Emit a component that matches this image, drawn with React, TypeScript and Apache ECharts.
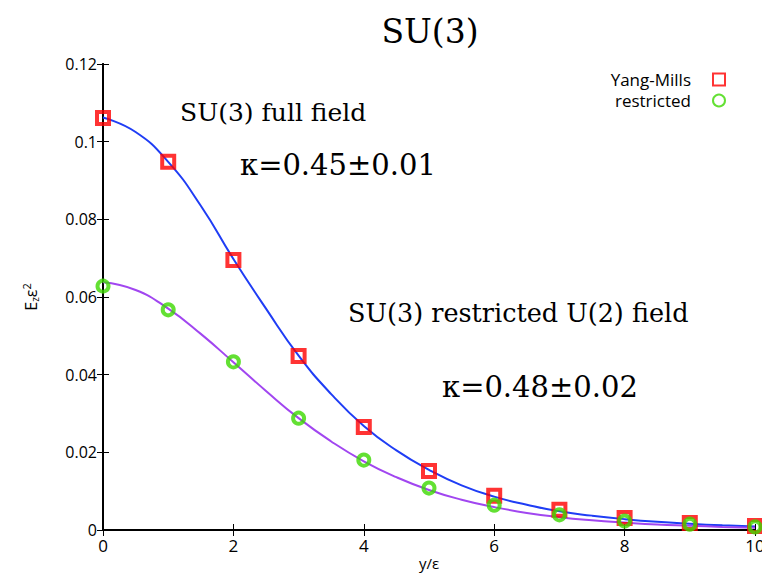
import React, { useEffect, useRef } from "react";
import * as echarts from "echarts";

const xPoints = [0, 1, 2, 3, 4, 5, 6, 7, 8, 9, 10];
const yangMills = [0.1061, 0.0948, 0.0695, 0.0448, 0.0265, 0.0152, 0.0088, 0.0052, 0.0031, 0.0018, 0.001];
const restricted = [0.0628, 0.0567, 0.0433, 0.0288, 0.018, 0.0108, 0.0064, 0.0039, 0.0023, 0.0015, 0.0008];

const curveX = [0, 0.5, 1, 1.5, 2, 2.5, 3, 3.5, 4, 4.5, 5, 5.5, 6, 6.5, 7, 7.5, 8, 8.5, 9, 9.5, 10];
const fullFit = [0.1062, 0.1025, 0.0948, 0.0835, 0.0698, 0.057, 0.0449, 0.035, 0.0268, 0.0205, 0.0155, 0.0115, 0.0086, 0.0065, 0.0048, 0.0037, 0.0028, 0.0021, 0.0016, 0.0012, 0.0009];
const restrictedFit = [0.0638, 0.0618, 0.057, 0.0505, 0.0432, 0.0358, 0.0288, 0.0228, 0.0177, 0.0136, 0.0103, 0.0078, 0.0059, 0.0044, 0.0033, 0.0025, 0.0019, 0.0014, 0.0011, 0.0008, 0.0006];

const xTicks = [0, 2, 4, 6, 8, 10];
const yTicks = [0, 0.02, 0.04, 0.06, 0.08, 0.1, 0.12];

const serif = "'DejaVu Serif', 'Liberation Serif', serif";
const sans = "'Open Sans', 'Noto Sans', sans-serif";

export default function App() {
  const ref = useRef<HTMLDivElement>(null);
  useEffect(() => {
    if (!ref.current) return;
    const chart = echarts.init(ref.current, null, { renderer: "svg" });
    const axisLine = { show: true, lineStyle: { color: "#000", width: 2 } };
    const axisTick = { show: true, inside: true, length: 6, lineStyle: { color: "#000", width: 1 } };
    const txt = (text: string, x: number, y: number, size: number, align = "left", family = serif) => ({
      type: "text",
      x,
      y,
      style: {
        text,
        font: `${size}px ${family}`,
        fill: "#000",
        align,
        verticalAlign: "middle",
        textAlign: align,
        textVerticalAlign: "middle",
      },
    });
    chart.setOption({
      animation: false,
      backgroundColor: "#fff",
      grid: { left: 103, right: 7, top: 64, bottom: 44, outerBoundsMode: "none", containLabel: false },
      xAxis: [
        {
          type: "value",
          min: xTicks[0],
          max: xTicks[xTicks.length - 1],
          interval: 2,
          axisLine,
          axisTick,
          splitLine: { show: false },
          axisLabel: { fontFamily: sans, fontSize: 17, color: "#000", margin: 7 },
        },
        {
          type: "value",
          position: "top",
          min: xTicks[0],
          max: xTicks[xTicks.length - 1],
          interval: 2,
          axisLine,
          axisTick,
          splitLine: { show: false },
          axisLabel: { show: false },
        },
      ],
      yAxis: [
        {
          type: "value",
          min: yTicks[0],
          max: yTicks[yTicks.length - 1],
          interval: 0.02,
          axisLine,
          axisTick,
          splitLine: { show: false },
          axisLabel: {
            fontFamily: sans,
            fontSize: 16,
            color: "#000",
            margin: 6,
            formatter: (v: number) => (v === 0 ? "0" : String(parseFloat(v.toFixed(2)))),
          },
          name: "{a|E}{sub|z}{a|ε}{sup|2}",
          nameLocation: "middle",
          nameGap: 63,
          nameRotate: 90,
          nameTextStyle: {
            rich: {
              a: { fontFamily: sans, fontSize: 16, color: "#000" },
              sub: { fontFamily: sans, fontSize: 10, color: "#000", verticalAlign: "bottom", padding: [8, 0, 0, 0] },
              sup: { fontFamily: sans, fontSize: 11, color: "#000", verticalAlign: "top", padding: [0, 0, 8, 0] },
            },
          },
        },
        {
          type: "value",
          position: "right",
          min: yTicks[0],
          max: yTicks[yTicks.length - 1],
          interval: 0.02,
          axisLine,
          axisTick,
          splitLine: { show: false },
          axisLabel: { show: false },
        },
      ],
      legend: {
        orient: "vertical",
        right: 31,
        top: 66,
        align: "right",
        itemWidth: 12,
        itemHeight: 12,
        itemGap: 4,
        textStyle: { fontFamily: sans, fontSize: 17, color: "#000", padding: [0, 17, 0, 0] },
        data: ["Yang-Mills", "restricted"],
      },
      series: [
        {
          name: "full fit",
          type: "line",
          smooth: true,
          showSymbol: false,
          symbol: "none",
          data: curveX.map((x, i) => [x, fullFit[i]]),
          lineStyle: { color: "#1f3df5", width: 2 },
          z: 2,
        },
        {
          name: "restricted fit",
          type: "line",
          smooth: true,
          showSymbol: false,
          symbol: "none",
          data: curveX.map((x, i) => [x, restrictedFit[i]]),
          lineStyle: { color: "#a146f0", width: 2 },
          z: 2,
        },
        {
          name: "Yang-Mills",
          type: "scatter",
          symbol: "rect",
          symbolSize: 12,
          data: xPoints.map((x, i) => [x, yangMills[i]]),
          itemStyle: { color: "rgba(255,255,255,0)", borderColor: "#ff0000", borderWidth: 4 },
          z: 3,
        },
        {
          name: "restricted",
          type: "scatter",
          symbol: "circle",
          symbolSize: 11,
          data: xPoints.map((x, i) => [x, restricted[i]]),
          itemStyle: { color: "rgba(255,255,255,0)", borderColor: "#3cd800", borderWidth: 4 },
          z: 4,
        },
      ],
      graphic: [
        txt("SU(3)", 430, 31, 33, "center"),
        txt("SU(3) full field", 180, 112, 25),
        txt("κ=0.45±0.01", 240, 165, 29),
        txt("SU(3) restricted U(2) field", 348, 313, 25.5),
        txt("κ=0.48±0.02", 442, 387, 29),
        txt("y/ε", 429, 563, 15, "center", sans),
      ],
    });
    return () => chart.dispose();
  }, []);
  return (
    <div
      ref={ref}
      style={{ position: "fixed", left: 0, top: 0, width: 762, height: 574, background: "#fff" }}
    />
  );
}
